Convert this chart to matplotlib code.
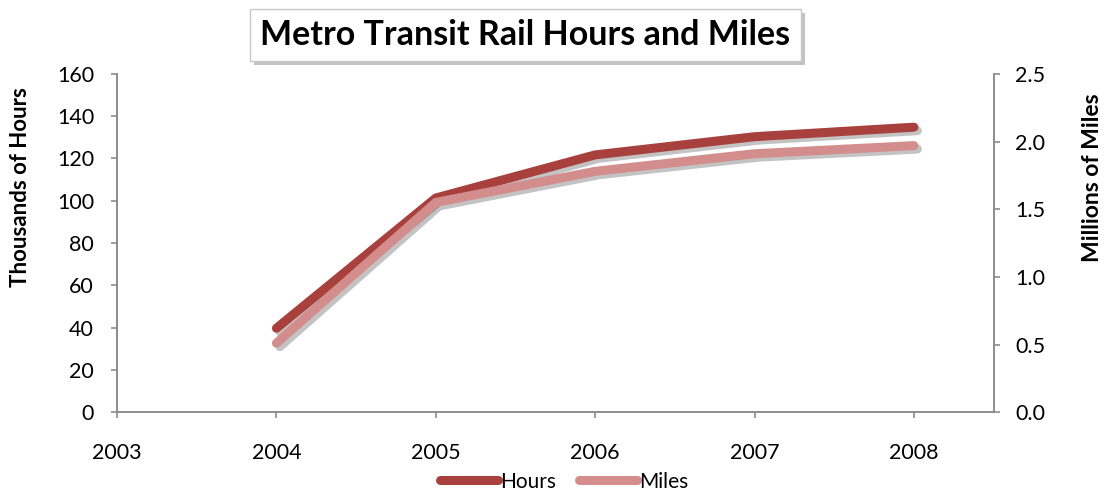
import numpy as np
import matplotlib.pyplot as plt
import matplotlib.patheffects as pe
from matplotlib.patches import Rectangle

plt.rcParams['font.family'] = ['Lato', 'DejaVu Sans']

# data
years = [2004, 2005, 2006, 2007, 2008]
hours = [39.7, 101.3, 121.7, 130.3, 134.8]   # thousands
miles = [0.51, 1.55, 1.78, 1.91, 1.97]       # millions

hours_col = '#A8413E'
miles_col = '#D28D8C'
spine_col = '#8C8C8C'

fig = plt.figure(figsize=(11.04, 4.96), dpi=100)
ax = fig.add_axes([0.106, 0.169, 0.794, 0.682])
ax2 = ax.twinx()

shadow = [pe.SimpleLineShadow(offset=(2.5, -2.5), shadow_color='#555555', alpha=0.35),
          pe.Normal()]

l1, = ax.plot(years, hours, color=hours_col, lw=6.5, solid_capstyle='round',
              solid_joinstyle='miter', path_effects=shadow, label='Hours', zorder=3)
l2, = ax2.plot(years, miles, color=miles_col, lw=6.5, solid_capstyle='round',
               solid_joinstyle='miter', path_effects=shadow, label='Miles', zorder=2)

ax.set_xlim(2003, 2008.5)
ax.set_ylim(0, 160)
ax2.set_ylim(0, 2.5)
ax.set_xticks([2003, 2004, 2005, 2006, 2007, 2008])
ax.set_yticks(np.arange(0, 161, 20))
ax2.set_yticks(np.arange(0, 2.51, 0.5))
ax2.set_yticklabels([f'{v:.1f}' for v in np.arange(0, 2.51, 0.5)])

for a in (ax, ax2):
    a.spines['top'].set_visible(False)
    for s in a.spines.values():
        s.set_color(spine_col)
        s.set_linewidth(1.2)
    a.tick_params(colors=spine_col, labelcolor='black', labelsize=15.5,
                  length=4.5, width=1.2, direction='out')

ax.tick_params(axis='x', pad=18)
ax.tick_params(axis='y', pad=12)
ax2.tick_params(axis='y', pad=11)

ax.set_ylabel('Thousands of Hours', fontsize=16, fontweight='bold')
ax2.set_ylabel('Millions of Miles', fontsize=16.5, fontweight='bold')
ax.yaxis.set_label_coords(-0.098, 0.666)
ax2.yaxis.set_label_coords(1.101, 0.692)

# legend below the plot
leg = ax.legend([l1, l2], ['Hours', 'Miles'], loc='center', bbox_to_anchor=(0.51, -0.205),
                ncol=2, frameon=False, fontsize=15, handlelength=2.8,
                handletextpad=0.1, columnspacing=1.1, borderaxespad=0)
for h in leg.get_lines():
    h.set_path_effects([])

# title box, then a drop shadow behind it
ttl = fig.text(0.476, 0.93, 'Metro Transit Rail Hours and Miles',
               ha='center', va='center', fontsize=24.5, fontweight='bold', color='black',
               zorder=5,
               bbox=dict(boxstyle='square,pad=0.3', fc='white', ec='#c8c8c8', lw=1))
fig.canvas.draw()
bb = ttl.get_bbox_patch().get_window_extent()
fig.patches.append(Rectangle((bb.x0 + 4, bb.y0 - 4), bb.width, bb.height, transform=None,
                             fc='#9a9a9a', ec='none', alpha=0.6, zorder=4))

fig.savefig('out.png', dpi=100)
